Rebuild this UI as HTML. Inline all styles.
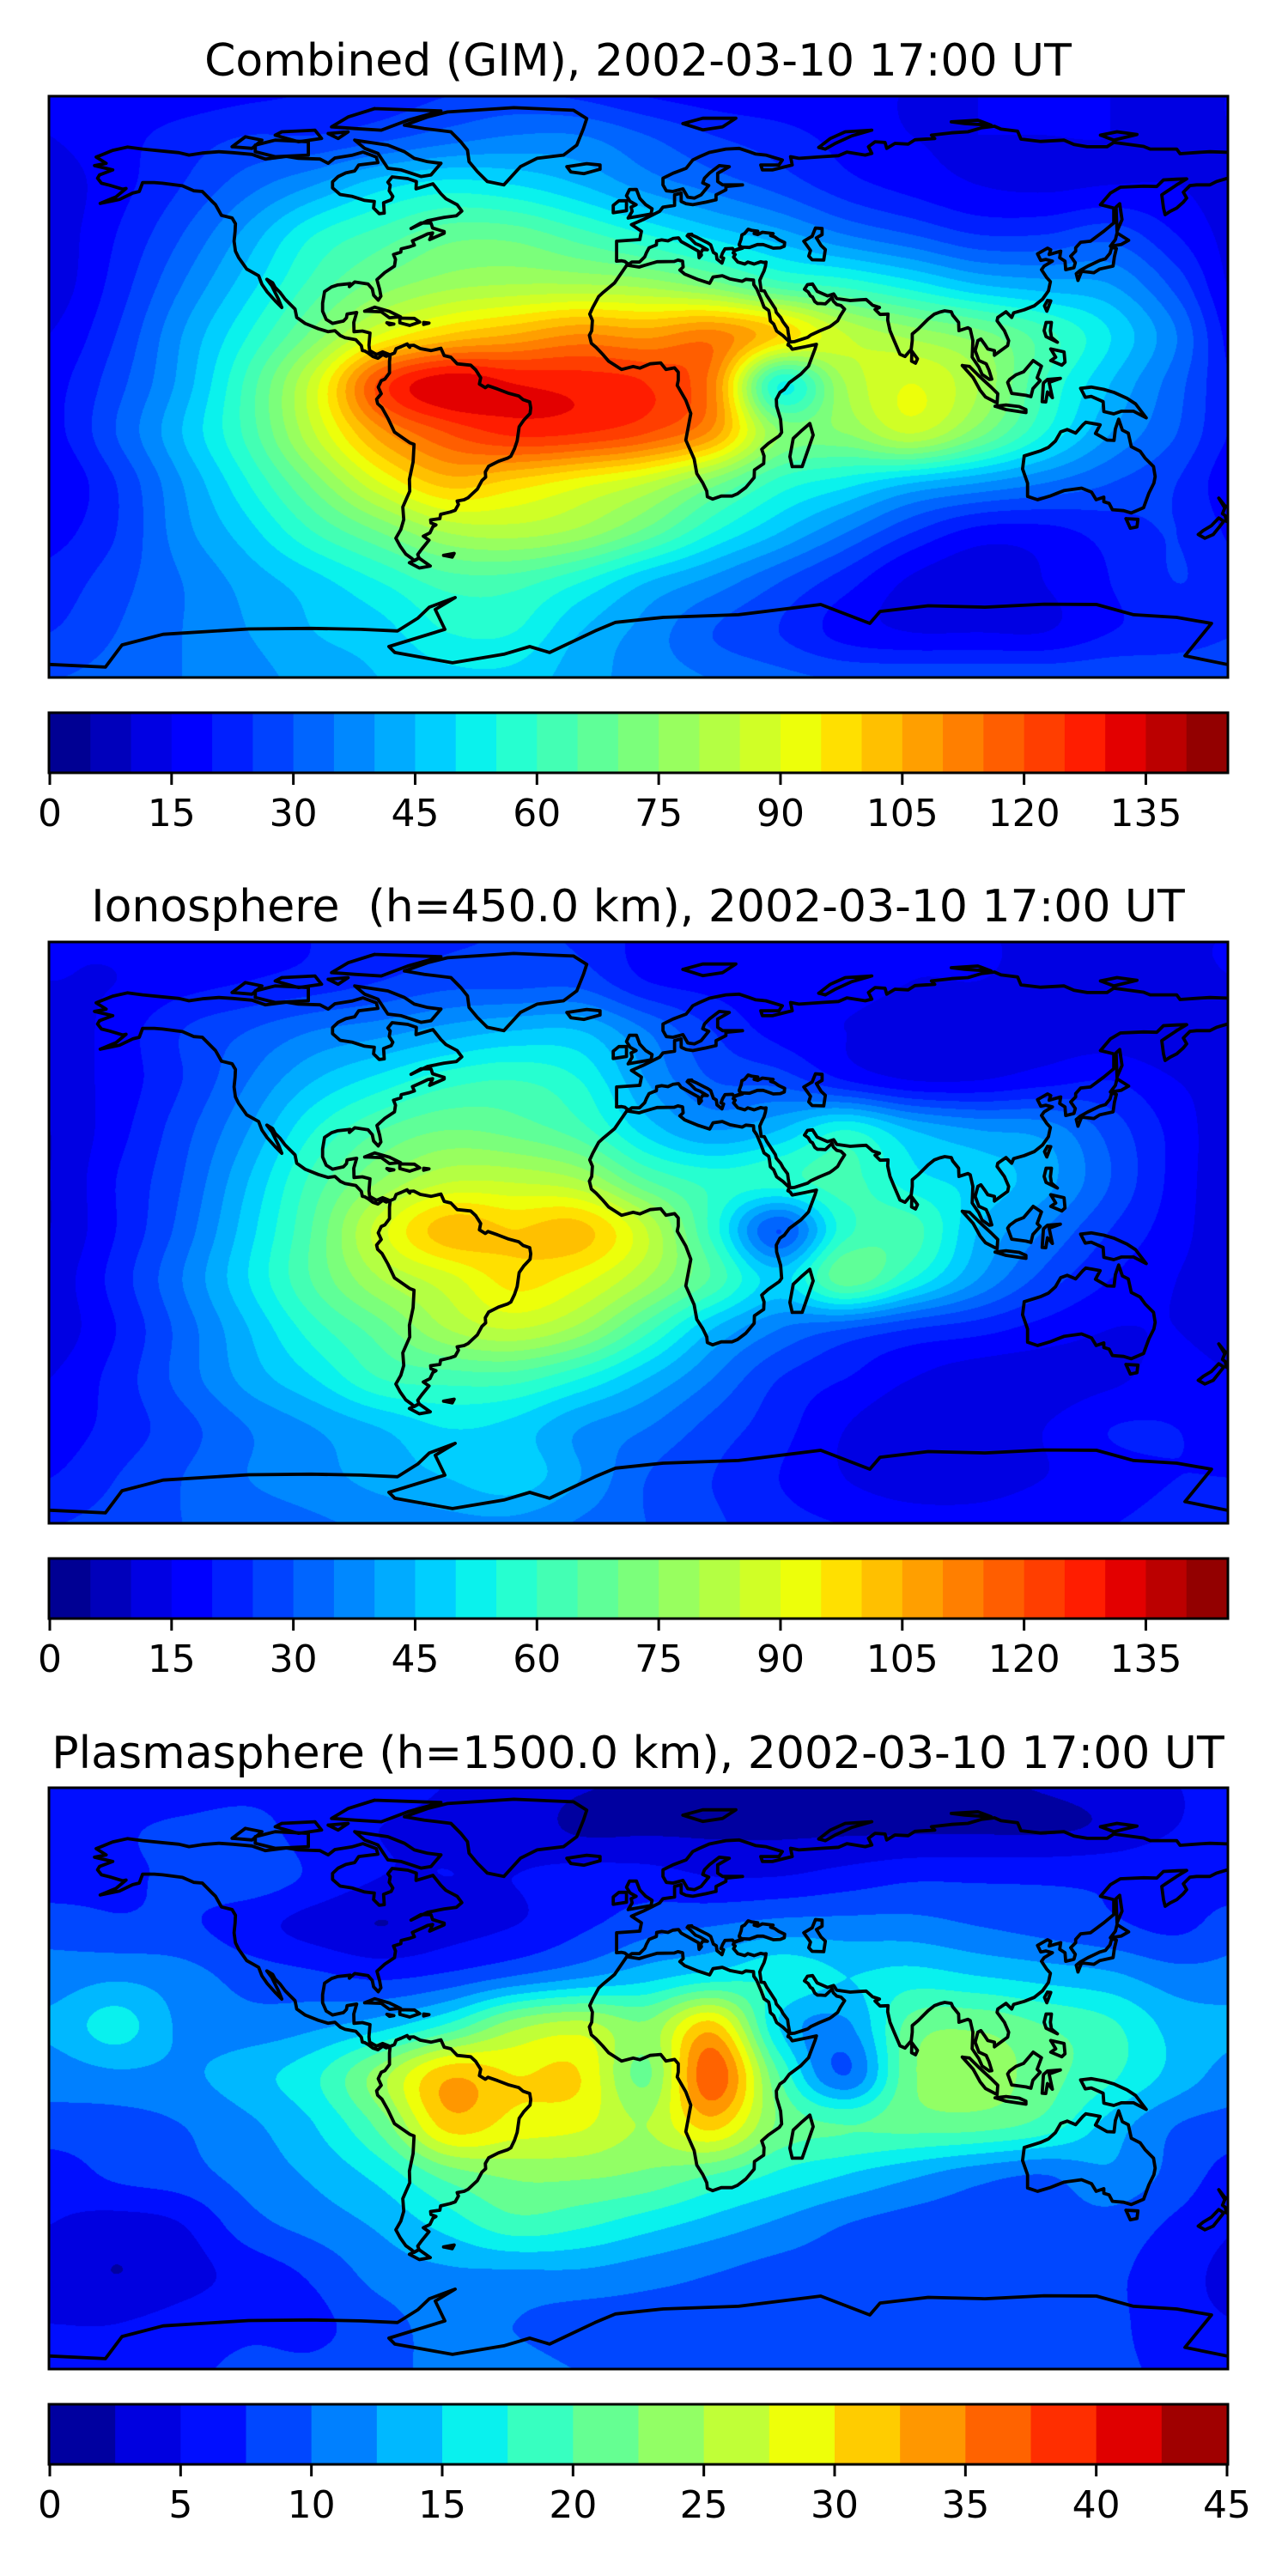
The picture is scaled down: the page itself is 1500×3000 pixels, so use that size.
<!DOCTYPE html>
<html>
<head>
<meta charset="utf-8">
<style>
html,body{margin:0;padding:0;background:#fff;}
body{width:1500px;height:3000px;position:relative;overflow:hidden;}
canvas{position:absolute;}
#overlay{position:absolute;left:0;top:0;}
text{font-family:"DejaVu Sans","Liberation Sans",sans-serif;fill:#000;}
</style>
</head>
<body>
<canvas id="map0" width="1371" height="675" style="left:58px;top:113px"></canvas>
<canvas id="map1" width="1371" height="675" style="left:58px;top:1098px"></canvas>
<canvas id="map2" width="1371" height="675" style="left:58px;top:2083px"></canvas>
<svg id="overlay" width="1500" height="3000" xmlns="http://www.w3.org/2000/svg">
  <text x="743" y="88" font-size="52" text-anchor="middle">Combined (GIM), 2002-03-10 17:00 UT</text>
  <text x="743" y="1073" font-size="52" text-anchor="middle" xml:space="preserve" style="white-space:pre">Ionosphere  (h=450.0 km), 2002-03-10 17:00 UT</text>
  <text x="743" y="2059" font-size="52" text-anchor="middle">Plasmasphere (h=1500.0 km), 2002-03-10 17:00 UT</text>
  <g id="layer"></g>
</svg>
<script>
// ---------- data ----------
const gridLons = [-180,-160,-140,-120,-100,-80,-60,-40,-20,0,20,40,60,80,100,120,140,160,180];
const gridLats = [90,75,60,45,30,15,0,-15,-30,-45,-60,-75,-90];

const gimValues = [
 [15,15,16,18,20,22,24,25,22,18,16,15,15,15,15,15,15,15,15],
 [15,18,22,25,25,28,32,35,35,30,25,22,18,15,15,15,15,14,15],
 [12,18,25,33,40,48,52,50,45,38,33,28,22,18,15,14,15,15,12],
 [12,20,30,42,55,62,68,68,62,55,48,42,35,30,25,25,28,20,12],
 [12,22,35,48,62,72,78,80,80,78,72,62,58,52,45,42,40,28,12],
 [15,25,40,55,72,90,100,105,110,108,112,100,85,78,72,62,50,35,15],
 [18,28,42,62,88,122,134,130,128,125,112,55,80,90,80,60,45,32,18],
 [18,30,45,62,85,108,120,126,125,120,108,75,75,85,72,55,40,30,18],
 [15,25,40,55,72,90,102,98,92,85,72,58,52,45,40,35,30,25,15],
 [18,25,38,48,60,70,80,82,78,68,55,45,35,25,18,18,22,25,18],
 [22,28,35,42,48,55,62,62,55,45,38,30,22,14,12,15,20,25,22],
 [25,30,35,40,45,48,55,55,45,38,30,25,18,15,15,15,20,22,25],
 [30,32,35,38,42,45,48,48,42,38,35,32,30,30,30,30,30,30,30]
];
const ionoValues = [
 [15,16,18,19,20,22,24,25,24,18,16,15,15,15,15,15,15,15,15],
 [15,15,18,20,22,25,28,28,28,20,18,17,17,15,15,14,14,14,15],
 [12,17,25,30,35,38,42,45,45,35,25,18,15,12,12,12,12,10,12],
 [12,17,25,35,45,52,58,60,55,40,30,28,20,15,15,18,20,15,12],
 [10,18,28,40,55,65,70,68,62,48,40,45,55,45,40,38,28,18,10],
 [10,20,30,45,62,75,84,84,80,65,58,58,62,52,48,42,30,18,10],
 [10,20,32,48,66,88,103,100,102,85,58,30,58,62,45,35,25,17,10],
 [12,22,35,50,66,80,88,97,92,80,64,48,68,55,40,28,20,15,12],
 [12,20,32,45,58,68,80,85,78,62,45,35,30,25,22,18,15,15,12],
 [15,22,32,42,50,60,62,62,55,45,35,25,20,15,12,12,14,17,15],
 [17,22,28,35,40,45,50,48,40,35,28,22,15,12,12,15,20,20,17],
 [20,25,30,35,38,42,45,48,40,30,25,20,15,12,12,15,18,20,20],
 [25,27,30,32,34,36,38,38,34,30,26,22,20,18,18,20,20,22,25]
];
const plasmaValues = [
 [5,5,5,6,6,6,5,4,3,2,2,2,2,2,2,3,4,5,5],
 [6,7,8,8.5,6,5,4.5,4,2,2,2,2,2,2,2,2,3,5,6],
 [6,7,8,9,7,5,5,5,6,6,5,5,6,7,7,7,7,7,6],
 [9,8,8,6,4,2.5,4,5,7,9,10,11,11,11,10,9,8,7,9],
 [11,12,11,9,8,7,8,10,12,14,16,17,15,16,15,14,13,11,11],
 [13,16,12,11,12,14,18,24,26,23,31,15,12,21,22,20,18,14,13],
 [11,12,12,14,17,24,32,30,30,22,37,20,10,22,24,21,18,14,11],
 [9,9,10,12,15,21,31,29,28,25,31,22,20,21,21,19,14,10,9],
 [6,8,9,11,13,16,21,23,23,22,20,17,15,13,11,10,12,9,6],
 [5,4,5,9,11,13,16,19,18,16,14,12,10,9,9,9,9,7,5],
 [4,2.5,4,6,8,11,12,12,12,11,10,9,9,9,9,9,8,6,4],
 [5,5,6,7,7,9,11,10,9,9,9,8,8,8,8,8,8,6,5],
 [6,6,7,8,8,9,11,11,10,10,9,9,9,9,9,9,8,7,6]
];

const gimLevels = {min:0, max:145, step:5};
const plasmaLevels = {min:0, max:45, step:2.5};
const gimTickLabels = [0,15,30,45,60,75,90,105,120,135];
const plasmaTickLabels = [0,5,10,15,20,25,30,35,40,45];

// ---------- coastlines (lon, lat) ----------
const coastlines = [
 [[-77.3,8.7],[-79.6,9.6],[-81.4,8.8],[-83.5,10],[-83.7,11.6],[-83.4,15.3],[-85.7,15.9],[-88.2,15.7],[-88.3,18.5],[-87.4,21.5],[-90.3,21],[-90.5,19.9],[-91.4,18.9],[-94.7,18.2],[-96.6,19.4],[-97.7,21.9],[-97.7,24.3],[-97.1,27.8],[-95,29.2],[-93.2,29.8],[-89.4,30.2],[-89.6,29.3],[-88,30.7],[-86.1,30.4],[-84,30.1],[-82.7,28.6],[-82.3,26.7],[-80.9,25.2],[-80.1,26.4],[-80.5,28.5],[-81.3,31.4],[-79,33.5],[-76,35.5],[-75.7,37.5],[-76.3,39],[-74.1,39.7],[-74,40.7],[-71.5,41.3],[-70,41.8],[-70.6,43.1],[-67.5,44.5],[-66,45.2],[-64.5,45.5],[-65.4,43.5],[-61,45.4],[-61,45.9],[-64.5,47],[-65,48.5],[-68,48.5],[-71,46.8],[-66,49.2],[-61,50.2],[-57.3,50.7],[-55.7,52.1],[-57.1,54],[-60.5,55.8],[-62,57.3],[-64.4,60.3],[-69.5,58.8],[-69.4,61],[-72,61.9],[-76.7,62.4],[-78,60.8],[-77.3,59.9],[-77.6,58.2],[-76.5,56.5],[-77,55.5],[-79.3,54.6],[-79.1,51.5],[-80.6,51.3],[-82.3,53],[-82.1,55],[-85,55.3],[-88.7,56.5],[-92.4,57.1],[-94.7,59.1],[-94.7,60.9],[-93,62.5],[-90.7,63.6],[-88,64.2],[-86.8,66],[-81,66.7],[-81.5,68.4],[-85.5,69.9],[-88.9,68.9],[-94,68.1],[-96,66.5],[-98.5,67.8],[-105,68],[-108.6,68.6],[-115,67.8],[-119,69.2],[-124.7,69.7],[-129,70],[-134,69.6],[-138,69],[-141,69.7],[-145,70.1],[-152,70.8],[-156.6,71.4],[-161,70.4],[-164.5,69],[-166,68.4],[-163,66.5],[-166.5,65.8],[-161,64.5],[-165,63],[-165.6,62],[-164.4,60.5],[-162,59.9],[-158,58.7],[-157,58.9],[-160,56.4],[-164.8,54.4],[-159,55.6],[-155,57.5],[-153,58],[-152,60.7],[-148.5,60.7],[-146,60.5],[-140,59.7],[-136.5,58.2],[-134,58],[-131,55],[-130,54],[-128.2,50.8],[-125,50],[-124,48.3],[-124.1,46],[-124.4,43],[-124,40],[-123,38],[-122,36.6],[-120.6,34.6],[-117,32.6],[-116,30],[-114.4,27.7],[-112,25],[-110,23],[-111,25.5],[-113,29.5],[-114.5,31.5],[-112.8,30.5],[-112,29],[-110.5,27.5],[-109,25.5],[-106,22.5],[-105.5,20],[-103,18.2],[-99,16.6],[-96,15.7],[-94,16],[-92.3,14.5],[-91,13.9],[-87.7,13.3],[-86,11.5],[-85.7,10],[-85,9.9],[-84,9.3],[-82.5,8.2],[-81,7.7],[-79.5,8.8],[-78.5,8.3],[-77.3,8.7]],
 [[-73,78],[-66,80.5],[-60,82],[-40,83.3],[-22,82.5],[-18,80],[-19,77],[-21,72],[-25,69],[-33,68],[-38,65.5],[-43,60],[-48,61],[-51,64],[-53.5,67],[-54,70.5],[-56,73],[-59,76],[-67,77],[-73,78]],
 [[-62,66.5],[-66,67],[-70,68],[-73,70],[-78,72],[-88,73.5],[-85,71],[-81,69.5],[-78,65],[-74,64.5],[-68,62.5],[-65,63],[-62,66.5]],
 [[-118,70],[-112,68.5],[-102,69],[-102,73],[-112,73.5],[-118,72],[-118,70]],
 [[-125,71.5],[-121,74.5],[-116,73.5],[-119,71],[-125,71.5]],
 [[-82,83],[-62,82.3],[-72,79.5],[-80,76.5],[-88,77],[-95,77.5],[-90,80.5],[-82,83]],
 [[-110,76],[-100,76.5],[-98,74],[-105,73],[-112,75],[-110,76]],
 [[-96,75.5],[-93,74],[-90,76],[-96,75.5]],
 [[-85,21.9],[-82,23.1],[-77.5,21.8],[-74.2,20.2],[-77.5,19.9],[-80,21.7],[-85,21.9]],
 [[-74.4,19.8],[-70,19.7],[-68.4,18.6],[-71.4,17.6],[-74.4,18.4],[-74.4,19.8]],
 [[-78.3,18.4],[-76.2,18],[-77.5,17.8],[-78.3,18.4]],
 [[-67.2,18.5],[-65.6,18.3],[-67.2,17.9],[-67.2,18.5]],
 [[-77.3,8.7],[-76,9.3],[-75.5,10.6],[-74,11.2],[-72.2,12],[-71.4,11],[-71.9,11.5],[-70.2,11.6],[-68.2,10.6],[-65,10],[-62,10.7],[-61,8.5],[-59,8],[-57.1,6],[-53,5.6],[-51.5,4.2],[-50,1.8],[-50.4,-0.1],[-48.6,-1.2],[-47.8,-0.6],[-44.9,-1.6],[-41.5,-2.9],[-38.5,-3.7],[-37.2,-4.8],[-35.2,-5.5],[-34.9,-7.3],[-35.1,-9],[-37,-11],[-38.4,-13],[-39,-17.2],[-39.8,-19.6],[-40.9,-21.9],[-41.8,-22.4],[-44.6,-23.4],[-47.6,-24.9],[-48.6,-26.6],[-48.5,-28.2],[-49.6,-29.2],[-51,-31.8],[-52.3,-33],[-53.8,-34.4],[-55,-35],[-57.1,-35.4],[-56.7,-36.4],[-57.7,-38.2],[-59.2,-38.7],[-62.1,-39.4],[-62.3,-40.7],[-65.1,-41.1],[-65,-42],[-63.5,-42.6],[-64.4,-43.1],[-65.3,-45],[-67.3,-46],[-65.6,-47.2],[-67.8,-49.9],[-69,-51.5],[-68.6,-52.6],[-70,-53.4],[-70.8,-52.7],[-72.6,-51.4],[-74.3,-49],[-75.6,-46.6],[-74.1,-44],[-73.2,-41],[-73.5,-37.2],[-71.4,-32.4],[-71.5,-28.9],[-70.4,-23.6],[-70.1,-18.3],[-71.4,-17.8],[-76,-14.6],[-78,-10.4],[-79.8,-7.2],[-81.1,-6],[-81.4,-4.7],[-80,-3],[-80.9,-1],[-80,0.9],[-78.9,1.4],[-77.5,3.3],[-77.5,6.7],[-77.3,8.7]],
 [[-68.6,-52.6],[-65.2,-55],[-68.5,-55.6],[-71.5,-54],[-68.6,-52.6]],
 [[-61.2,-51.8],[-58,-51.2],[-58.6,-52.3],[-61.2,-51.8]],
 [[-5.9,35.8],[-9.6,30.4],[-13,27.6],[-14.4,26.3],[-16.2,23],[-17.1,21],[-16.3,19.1],[-16.5,16],[-17.2,14.6],[-16.6,12.2],[-15.2,11],[-13.2,8.9],[-11.4,6.8],[-7.5,4.3],[-4,5.2],[-2,4.7],[1.1,6],[4.3,6.3],[5.9,4.3],[8.5,4.8],[9.6,3.5],[9.6,1],[9.3,-0.5],[11.9,-5],[13.4,-9],[11.9,-17],[14.4,-22.7],[15.2,-27.1],[17,-29.9],[18.2,-32.4],[18.4,-34.1],[20,-34.8],[22.6,-33.9],[25.8,-33.9],[27.5,-33.2],[30,-31.3],[32.5,-28.3],[32.6,-26],[35.4,-24.1],[35.5,-21.8],[34.8,-19.8],[36.8,-18],[40.1,-15.7],[40.8,-14.7],[40.5,-10.8],[39.3,-6.8],[39.2,-4.7],[40.3,-2.6],[41.6,-1.7],[43.1,0.3],[46.6,2.9],[48.9,5.3],[50.9,10.6],[51.3,11.9],[48,11.2],[45.5,10.7],[44,10.4],[43.4,11.3],[42.7,11.7],[43.1,12.7],[41.2,14.5],[39.3,15.9],[38.4,18],[37.4,18.9],[37.1,21.2],[36.9,22.1],[35.5,23.1],[34.6,25.5],[33.3,28.6],[32.4,29.9],[32.3,31.3],[30,31.5],[28.9,30.9],[25.2,31.6],[22.9,32.6],[20.1,32.2],[19.1,30.3],[15.7,31.4],[11.5,33.1],[10.1,34.3],[11.1,35.2],[10.9,37],[9.5,37.3],[8.4,36.9],[3.2,36.8],[-0.6,35.7],[-2.2,35.2],[-5.9,35.8]],
 [[44,-25],[47,-25],[50.3,-15.5],[49.3,-12],[47,-14],[44.3,-16.5],[43.3,-22],[44,-25]],
 [[-9,37],[-9,43],[-2,43.5],[-1.5,46],[-4.5,48],[-1,49.5],[2,51],[4,52],[5,53.3],[8.5,53.8],[8.5,57],[10.5,57.5],[10.5,55],[12,54.3],[14,54],[18,54.8],[21,55.5],[21,57],[24,58.5],[24,59.5],[29,60],[23,60],[21.5,61],[21.5,63.5],[25,65.5],[22,65.8],[19,63.5],[17.5,62],[17,60.6],[18.8,59.8],[16.5,57],[14.5,56],[12.5,56.3],[11,58.8],[8,58],[6,58.2],[5,60],[5,62],[8,63.5],[12,65],[14,67.5],[16,68.5],[19,69.8],[24,70.8],[28,71],[31,70],[33,69.3],[36,69],[41,67.5],[40,66],[34.5,66],[35,64.5],[38,64.5],[44,66],[43.5,68.5],[46,68],[53,68.5],[58,68.8],[60.5,69.9],[66,69],[68,69.5],[67,71.5],[69,73],[72,72.8],[72.5,71],[75,72.5],[79,72.3],[81,73.6],[87,74],[86,75],[92,75.7],[97,76],[101,77.2],[105,77.7],[107,76.8],[112,76.2],[113,73.8],[119,73.1],[126,73.5],[129,72.2],[133,71.5],[139,71.5],[141,72.8],[150,71.6],[152,70.8],[160,70.8],[161,69.4],[168,69.9],[170,70],[176,69.8],[180,68.8]],
 [[180,65.5],[178,64.3],[177,62.5],[172,61],[170,60],[166,60],[164,59.8],[162,57.8],[163,56],[162,54.8],[160,53],[158,52],[156.5,51],[156,53],[155.5,57],[157,58],[160,60],[163,61.8],[160,61.7],[156,61.5],[154,59.5],[150,59.6],[143,59.3],[140,57.5],[137,54],[141,53],[141,48.5],[138,46],[134,43],[131,42.7],[129.5,41],[129.5,40],[128,38.5],[129.4,36.5],[129,35],[126.5,34.4],[126.3,37],[124.7,38],[125,40],[121.5,39],[122,40.4],[121,40.9],[118,39.2],[119,37.2],[120.5,37.5],[122.5,37],[120,35.5],[119.2,34.4],[120.8,32],[121.9,30.8],[121.3,28],[119.5,25.5],[117,23.5],[114,22.3],[110.8,21.4],[110.2,20],[108.5,21.7],[106,20],[105.8,19],[108,16],[109.3,13],[109,11.5],[105,8.6],[105,10],[103,10.5],[102,12],[100.9,13.5],[100,13],[99.2,10],[100.3,7],[102.5,6],[103.4,4],[104.2,1.4],[103.5,1.3],[101.3,2.8],[100.3,5],[98.3,8],[98.5,13],[97.7,16.5],[97,16.9],[94.3,16],[94.2,18.5],[92.4,20.7],[92,21.7],[90,22],[88.5,21.6],[86.9,21],[85,19.5],[82,16.5],[80.2,15],[80.2,13],[79.9,10.4],[78,8.2],[76.5,8.9],[74.8,12.9],[73.5,16],[72.8,19.2],[72.9,21],[70.5,20.9],[69,22.4],[70.3,23],[68.2,23.7],[67.1,24.7],[66.3,25.4],[64.5,25.3],[61.5,25.1],[57.4,25.7],[56.5,27.1],[54.7,26.5],[51.5,27.9],[50.1,30.1],[48.6,29.9],[47.7,28.5],[48.8,27.7],[49.5,26.5],[50.1,26.2],[50.8,24.8],[51.6,24.2],[52.6,24.2],[54,24.1],[56,26],[56.4,24.9],[57.4,23.9],[58.7,23.6],[59.8,22.5],[58.5,20.5],[57.7,19],[56.3,17.9],[55.3,17.2],[52.2,15.9],[49.6,14.7],[48.7,14],[44.6,12.7],[43.3,12.6],[42.8,15.3],[42.6,16.8],[41.2,18.7],[40.5,20],[39.2,21.5],[38.9,22.6],[38,24],[37.5,24.8],[36.3,26.6],[35.6,28],[34.6,28.1],[34.5,29],[34.2,31.2],[34.9,32.8],[35.5,34],[35.9,35.4],[36.1,36.7],[35.4,36.6],[34.5,36.8],[32.5,36.1],[30.6,36.7],[29.7,36.1],[27.6,36.7],[26.3,38.2],[26.8,39],[26.2,39.5],[26.6,40.1],[27.3,40.4],[29,40.9],[29.2,41.2],[31.1,41.1],[33.5,42],[35.2,42],[38.3,40.9],[40.4,41],[41.6,41.5],[41.7,42.6],[40,43.4],[38.7,44.3],[37.5,44.7],[38.2,45.3],[37.4,45.4],[35,45.7],[33.6,45],[32.5,45.3],[33.6,46],[31.7,46.3],[30.7,46.6],[29.6,45.3],[28.8,44.9],[28.6,43.7],[28,42],[28.1,41.6],[29,41.1],[26.4,40.2],[26,40.8],[23.7,40.7],[23,39.5],[22.5,38.2],[23.3,37.9],[22.8,36.4],[21.3,37.6],[21.1,39.1],[20.2,39.6],[19.4,41.9],[18.5,42.5],[17.5,43],[15.2,44.2],[13.8,44.8],[13.7,45.1],[12.6,45],[12.3,44.6],[13.5,43.6],[14.8,42.3],[16.2,41.7],[18.4,40.4],[17,40.5],[16.4,39.5],[16.6,38.8],[15.9,38],[15.7,40],[14.6,40.6],[12.3,41.9],[10.5,42.9],[9.7,44],[8,43.8],[6.5,43.1],[4.6,43.4],[3.1,43.1],[3,41.9],[0.8,41],[0,39.5],[-0.5,38.3],[-2.1,36.7],[-4.4,36.7],[-5.4,36],[-6.5,36.9],[-7.5,37.1],[-9,37]],
 [[50,44.5],[51,47],[53,46.8],[53,45],[51.3,44],[52.7,41.7],[54,40.5],[53.5,37.3],[50,37.4],[49,38.5],[49.5,40.2],[47.5,43],[50,44.5]],
 [[-5.5,50],[1.4,51.2],[1.7,52.8],[-0.2,54],[-2,55.9],[-3,58.6],[-5.1,58.6],[-6,56.7],[-4.9,55],[-3.1,54],[-4.6,53.3],[-4.3,52],[-5.5,50]],
 [[-10,51.6],[-6,52.2],[-6,55.2],[-8.3,55.2],[-10,53.8],[-10,51.6]],
 [[-24,65.5],[-18,66.4],[-14,66],[-14,64.7],[-18.8,63.4],[-22.8,63.9],[-24,65.5]],
 [[11,78.5],[17,80.1],[27,80.1],[23,77.5],[17,76.6],[11,78.5]],
 [[52,71.3],[55.5,74],[60,76],[68,76.5],[62,74.8],[57,72.5],[54,70.8],[52,71.3]],
 [[92,79],[100,79.5],[104,78],[96,78.5],[92,79]],
 [[137,75],[142,76],[148,75.2],[141,73.5],[137,75]],
 [[130.2,31.2],[131.3,33.9],[135,33.5],[136.8,34.6],[140.8,35.5],[141.2,38.3],[141.8,40.8],[140.4,41.2],[139.9,39.4],[138.5,37.7],[136.8,37.2],[133.2,35.5],[130.9,34.2],[129.7,33.2],[130.2,31.2]],
 [[140,41.5],[143.2,42],[145.5,43.3],[142,45.5],[141.5,43.5],[140,41.5]],
 [[142,46],[143.5,49.5],[142.8,54.3],[141.7,53.3],[142,46]],
 [[121,25.1],[122,25],[120.8,21.9],[120.1,23.5],[121,25.1]],
 [[120.6,18.5],[122.2,18.5],[121.9,16],[122.2,14],[124,12.5],[120.6,14.2],[120,16],[120.6,18.5]],
 [[122,10.5],[126,9.6],[126.3,6.5],[125.3,5.6],[122,7],[123.5,8],[122,10.5]],
 [[95.3,5.5],[97.5,5.2],[100.5,2.2],[104,-1],[106,-3],[105.8,-5.8],[102.3,-4],[100.7,-2],[98.6,1.8],[95.3,5.5]],
 [[105.2,-6.8],[108.5,-6.4],[112.5,-6.9],[114.5,-7.8],[114.5,-8.7],[108.5,-7.8],[105.2,-6.8]],
 [[109.6,1.3],[111.5,2.7],[113.8,3.6],[116.7,7],[119.2,5.3],[117.9,1.8],[118.8,0.9],[116.6,-1.5],[116,-3.9],[114.5,-3.5],[110.2,-2.9],[109,0.4],[109.6,1.3]],
 [[119.4,-5.4],[119.8,0.2],[121,1.3],[124.9,1.6],[121.5,0.4],[122.5,-4.2],[121,-2.5],[120.5,-5.5],[119.4,-5.4]],
 [[131,-1.4],[134.2,-1],[138,-1.7],[141,-2.6],[145,-4.4],[147.6,-6.1],[150.8,-10.3],[147,-8.3],[143.3,-8.3],[141,-9.1],[138,-8.4],[137.8,-5.4],[134.2,-3.8],[132.4,-4.1],[131,-1.4]],
 [[80.1,9.8],[81.8,7.5],[81.2,6.2],[80,6.8],[80.1,9.8]],
 [[114,-21.8],[113.5,-25.7],[115,-30],[115,-34],[118,-35],[122,-33.8],[124,-33],[126.1,-32.2],[131.3,-31.5],[134.3,-32.7],[135.7,-35],[138,-34.2],[138,-35.6],[139.6,-36.1],[140.6,-38],[144,-38.3],[146.3,-39],[150,-37.4],[151.6,-33],[153.1,-30],[153.5,-28],[153,-25],[150.5,-22.5],[149,-20.4],[146.3,-19],[145.4,-14.9],[143.6,-14],[142.5,-10.7],[141.5,-13.6],[141.1,-17.1],[139,-17],[135.5,-15],[136.9,-12.4],[132.6,-11.6],[131.8,-12.3],[129.5,-14.9],[127,-13.8],[125,-14.5],[123.4,-17.3],[121.3,-19.2],[118.8,-20.3],[114,-21.8]],
 [[144.7,-40.7],[148.3,-40.9],[148,-43.2],[146,-43.6],[144.7,-40.7]],
 [[166.5,-45.5],[168.5,-46.6],[171,-45.5],[173,-43],[174.2,-41.5],[172.7,-40.5],[170.5,-42.8],[168,-44.3],[166.5,-45.5]],
 [[172.7,-34.5],[174.5,-36.8],[176,-37.6],[178.5,-37.7],[177,-39.3],[175,-41.5],[174.6,-39.8],[173.8,-39.2],[174.5,-37.5],[172.7,-34.5]],
 [[-180,-84.7],[-163.2,-85.5],[-158.2,-78.8],[-145.8,-75.6],[-120,-74],[-101.2,-73.8],[-86.2,-74.1],[-75.1,-74.6],[-68.9,-70.7],[-65.5,-67.4],[-57.7,-64.5],[-63.7,-68.1],[-60.8,-74.1],[-77.7,-79.3],[-75.9,-81.1],[-58.5,-84.2],[-43,-81.6],[-35.2,-79.3],[-29.2,-81.1],[-15.5,-74.6],[-9.3,-72],[5,-70.5],[27.8,-69.7],[52.6,-66.6],[67.4,-72.3],[70.5,-68.7],[85,-67],[102.1,-67.4],[120,-66.5],[135.8,-66.6],[147,-69.7],[160,-70.5],[170.5,-72.3],[162.5,-82.1],[175.2,-84.7],[180,-84.7]]
];

// ---------- geometry ----------
const MAP_L=58, MAP_R=1429, MAP_T=113, MAP_B=788, PANEL_DY=985;
const PXDEG=3.86, LAT_TOP=86.5;
function xOfLon(lon){return MAP_L+(lon+180)*PXDEG;}
function yOfLat(lat,p){return MAP_T+p*PANEL_DY+(LAT_TOP-lat)*PXDEG;}

function jet(t){
  function seg(pts){
    for(let i=1;i<pts.length;i++){
      if(t<=pts[i][0]){const a=pts[i-1],b=pts[i];return a[1]+(b[1]-a[1])*(t-a[0])/(b[0]-a[0]);}
    }
    return pts[pts.length-1][1];
  }
  const r=seg([[0,0],[0.35,0],[0.66,1],[0.89,1],[1,0.5]]);
  const g=seg([[0,0],[0.125,0],[0.375,1],[0.64,1],[0.91,0],[1,0]]);
  const b=seg([[0,0.5],[0.11,1],[0.34,1],[0.65,0],[1,0]]);
  return [Math.round(r*255),Math.round(g*255),Math.round(b*255)];
}

function cr(p0,p1,p2,p3,t){
  return p1+0.5*t*(p2-p0+t*(2*p0-5*p1+4*p2-p3+t*(3*(p1-p2)+p3-p0)));
}
function sample(grid,lon,lat){
  const nx=gridLons.length, ny=gridLats.length;
  const fx=(lon-gridLons[0])/(gridLons[1]-gridLons[0]);
  const fy=(gridLats[0]-lat)/(gridLats[0]-gridLats[1]);
  const ix=Math.floor(fx), iy=Math.floor(fy);
  const tx=fx-ix, ty=fy-iy;
  const cx=i=>Math.min(nx-1,Math.max(0,i)), cy=i=>Math.min(ny-1,Math.max(0,i));
  const rows=[];
  for(let j=-1;j<=2;j++){
    const row=grid[cy(iy+j)];
    rows.push(cr(row[cx(ix-1)],row[cx(ix)],row[cx(ix+1)],row[cx(ix+2)],tx));
  }
  return cr(rows[0],rows[1],rows[2],rows[3],ty);
}

function drawMap(canvasId,grid,lv){
  const cv=document.getElementById(canvasId);
  const ctx=cv.getContext('2d');
  const W=cv.width,H=cv.height;
  const img=ctx.createImageData(W,H);
  const n=Math.round((lv.max-lv.min)/lv.step);
  const pal=[];
  for(let i=0;i<n;i++) pal.push(jet((i+0.5)/n));
  for(let py=0;py<H;py++){
    const lat=LAT_TOP-(py+0.5)/PXDEG;
    for(let px=0;px<W;px++){
      const lon=-180+(px+0.5)/PXDEG;
      const v=sample(grid,lon,lat);
      let k=Math.floor((v-lv.min)/lv.step);
      k=Math.max(0,Math.min(n-1,k));
      const c=pal[k], o=(py*W+px)*4;
      img.data[o]=c[0];img.data[o+1]=c[1];img.data[o+2]=c[2];img.data[o+3]=255;
    }
  }
  ctx.putImageData(img,0,0);
}

drawMap('map0',gimValues,gimLevels);
drawMap('map1',ionoValues,gimLevels);
drawMap('map2',plasmaValues,plasmaLevels);

// ---------- overlay ----------
const NS='http://www.w3.org/2000/svg';
const layer=document.getElementById('layer');
function mk(tag,attrs,parent){
  const e=document.createElementNS(NS,tag);
  for(const k in attrs) e.setAttribute(k,attrs[k]);
  (parent||layer).appendChild(e);
  return e;
}
const panelNames=['combined','ionosphere','plasmasphere'];
const panelLevels=[gimLevels,gimLevels,plasmaLevels];
const panelTicks=[gimTickLabels,gimTickLabels,plasmaTickLabels];

for(let p=0;p<3;p++){
  const top=MAP_T+p*PANEL_DY;
  const clip=mk('clipPath',{id:'clip'+p});
  mk('rect',{x:MAP_L,y:top,width:MAP_R-MAP_L,height:MAP_B-MAP_T},clip);
  const g=mk('g',{'clip-path':'url(#clip'+p+')'});
  
  
  coastlines.forEach((line)=>{
    const pts=line.map(q=>xOfLon(q[0]).toFixed(1)+','+yOfLat(q[1],p).toFixed(1)).join(' ');
    const pl=mk('polyline',{points:pts,fill:'none',stroke:'#000','stroke-width':3.8,'stroke-linejoin':'round','stroke-linecap':'round'},g);
    
    
  });
  const frame=mk('rect',{x:MAP_L-1,y:top-1,width:MAP_R-MAP_L+2,height:MAP_B-MAP_T+2,fill:'none',stroke:'#000','stroke-width':3});
  
  

  const lv=panelLevels[p];
  const cbTop=831+p*PANEL_DY, cbH=68;
  const n=Math.round((lv.max-lv.min)/lv.step);
  const xv=v=>MAP_L+(v-lv.min)/(lv.max-lv.min)*(MAP_R-MAP_L);
  const cb=mk('g',{});
  
  
  for(let i=0;i<n;i++){
    const c=jet((i+0.5)/n);
    const x0=xv(lv.min+i*lv.step), x1=xv(lv.min+(i+1)*lv.step);
    const r=mk('rect',{x:x0,y:cbTop,width:x1-x0+0.6,height:cbH,fill:'rgb('+c.join(',')+')'},cb);
    
    
  }
  mk('rect',{x:MAP_L-1,y:cbTop-1,width:MAP_R-MAP_L+2,height:cbH+2,fill:'none',stroke:'#000','stroke-width':3},cb);
  panelTicks[p].forEach(t=>{
    const x=xv(t);
    const tk=mk('line',{x1:x,y1:cbTop+cbH,x2:x,y2:cbTop+cbH+15,stroke:'#000','stroke-width':3},cb);
    
    
    const tx=mk('text',{x:x,y:cbTop+cbH+63,'font-size':44,'text-anchor':'middle'},cb);
    tx.textContent=String(t);
    
    
  });
}
</script>
</body>
</html>
